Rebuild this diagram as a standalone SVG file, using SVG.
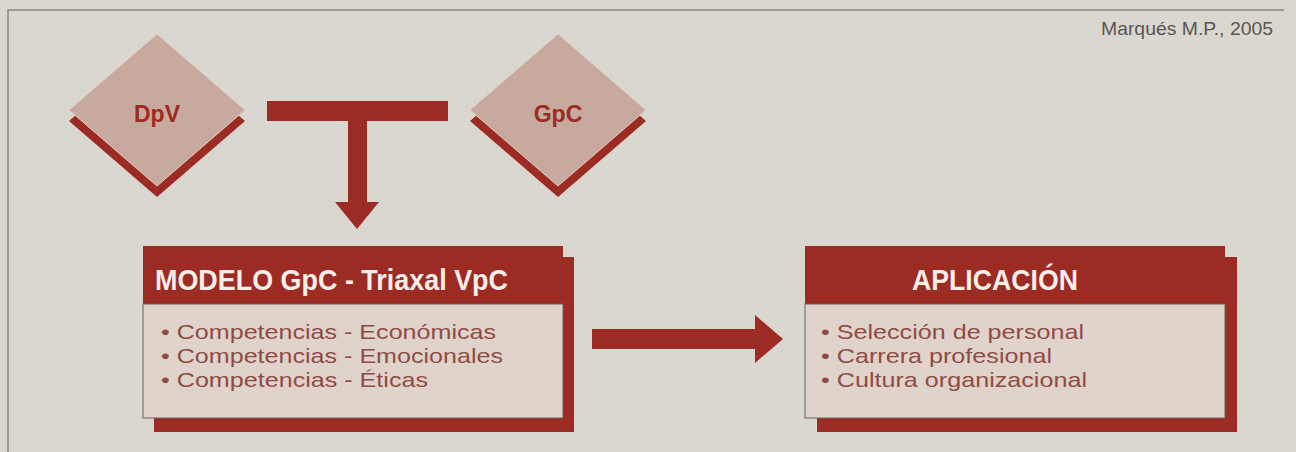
<svg xmlns="http://www.w3.org/2000/svg" width="1296" height="452" viewBox="0 0 1296 452">
  <defs>
    <style>
      .bg { fill: #dad7d0; }
      .frame { stroke: #8c8782; stroke-width: 1.5; fill: none; }
      .red { fill: #9c2b23; }
      .dia { fill: #c8a99d; stroke: #e3cfc6; stroke-width: 1; }
      .body { fill: #dfd3cb; stroke: #6f605b; stroke-width: 1; }
      .hdr { fill: #9c2b23; }
      .dlabel { font-family: "Liberation Sans", Arial, sans-serif; font-weight: bold; font-size: 23px; fill: #9c2b23; text-anchor: middle; }
      .title { font-family: "Liberation Sans", Arial, sans-serif; font-weight: bold; font-size: 30px; fill: #f6eee8; }
      .item { font-family: "Liberation Sans", Arial, sans-serif; font-size: 21px; fill: #8f4c44; }
      .cite { font-family: "Liberation Sans", Arial, sans-serif; font-size: 19px; fill: #5a5552; }
    </style>
  </defs>
  <rect class="bg" x="0" y="0" width="1296" height="452"/>
  <path class="frame" d="M8,452 V10 H1284"/>
  <text class="cite" x="1101" y="35" textLength="172" lengthAdjust="spacingAndGlyphs">Marqués M.P., 2005</text>

  <g id="node-dpv">
    <polygon class="red" points="157,45 245,121 157,197 69,121"/>
    <polygon class="dia" points="157,34 245,110 157,186 69,110"/>
    <text class="dlabel" x="157" y="122">DpV</text>
  </g>

  <g id="node-gpc">
    <polygon class="red" points="558,45 646,121 558,197 470,121"/>
    <polygon class="dia" points="558,34 646,110 558,186 470,110"/>
    <text class="dlabel" x="558" y="122">GpC</text>
  </g>

  <g id="node-modelo">
    <rect class="red" x="154" y="257" width="420" height="175"/>
    <rect class="hdr" x="143" y="246" width="420" height="58"/>
    <rect class="body" x="143" y="304" width="420" height="114"/>
    <text class="title" x="155" y="290" textLength="353" lengthAdjust="spacingAndGlyphs">MODELO GpC - Triaxal VpC</text>
    <text class="item" x="161" y="339" textLength="335" lengthAdjust="spacingAndGlyphs">• Competencias - Económicas</text>
    <text class="item" x="161" y="363" textLength="342" lengthAdjust="spacingAndGlyphs">• Competencias - Emocionales</text>
    <text class="item" x="161" y="387" textLength="267" lengthAdjust="spacingAndGlyphs">• Competencias - Éticas</text>
  </g>

  <g id="node-aplicacion">
    <rect class="red" x="817" y="257" width="420" height="175"/>
    <rect class="hdr" x="805" y="246" width="420" height="58"/>
    <rect class="body" x="805" y="304" width="420" height="114"/>
    <text class="title" x="912" y="290" textLength="166" lengthAdjust="spacingAndGlyphs">APLICACIÓN</text>
    <text class="item" x="821" y="339" textLength="263" lengthAdjust="spacingAndGlyphs">• Selección de personal</text>
    <text class="item" x="821" y="363" textLength="231" lengthAdjust="spacingAndGlyphs">• Carrera profesional</text>
    <text class="item" x="821" y="387" textLength="266" lengthAdjust="spacingAndGlyphs">• Cultura organizacional</text>
  </g>

  <g id="connectors">
    <polygon class="red" points="267,101 448,101 448,121 367,121 367,202 379,202 357,229 335,202 348,202 348,121 267,121"/>
    <polygon class="red" points="592,329 755,329 755,315 783,339 755,363 755,349 592,349"/>
  </g>
</svg>
